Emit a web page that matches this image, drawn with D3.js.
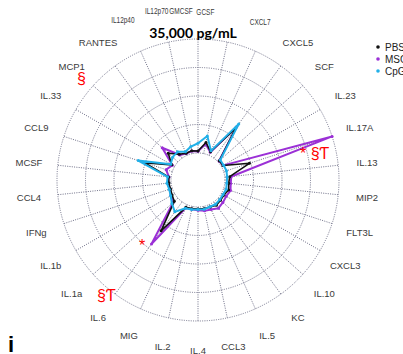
<!DOCTYPE html>
<html>
<head>
<meta charset="utf-8">
<script src="https://cdn.jsdelivr.net/npm/d3@7/dist/d3.min.js"></script>
<style>
  html, body { margin: 0; padding: 0; background: #fff; }
  svg { display: block; }
</style>
</head>
<body>
<script>
// Cytokine panel, clockwise from the top spoke
const cytokines = ["GMCSF", "GCSF", "CXCL7", "CXCL5", "SCF", "IL.23", "IL.17A", "IL.13", "MIP2", "FLT3L",
  "CXCL3", "IL.10", "KC", "IL.5", "CCL3", "IL.4", "IL.2", "MIG", "IL.6", "IL.1a",
  "IL.1b", "IFNg", "CCL4", "MCSF", "CCL9", "IL.33", "MCP1", "RANTES", "IL12p40", "IL12p70"];

// Concentrations (pg/mL)
const pbs = [600, 3500, 1200, 11500, 500, 600, 8300, 1500, 1200, 1600,
  900, 1000, 1300, 800, 700, 600, 700, 900, 11000, 1500,
  900, 600, 700, 800, 9000, 1000, 4000, 1500, 700, 900];
const msc = [500, 3000, 1000, 12000, 400, 700, 35000, 2000, 1800, 2200,
  1700, 2000, 2400, 1600, 1400, 1000, 900, 1100, 16000, 2000,
  1300, 800, 900, 700, 2000, 800, 6500, 1200, 600, 800];
const cpg = [3000, 5500, 1500, 13000, 900, 800, 900, 700, 600, 800,
  600, 700, 900, 700, 900, 800, 1000, 1200, 3800, 2500,
  1400, 1000, 1300, 1100, 11000, 1400, 2200, 2400, 1200, 2200];

const seriesNames = ["PBS", "MSC", "CpG"];
const seriesColors = ["#111111", "#9b30d6", "#22b0e8"];
const axisMax = 35000;
const gridLevels = [0, 8750, 17500, 26250, 35000];

// Significance marks placed beside the affected cytokines
const marks = [
  { text: "* §Ƭ", x: 300, y: 159 },
  { text: "§", x: 77, y: 84 },
  { text: "*", x: 139, y: 251 },
  { text: "§Ƭ", x: 97, y: 301 }
];

const W = 403, H = 354;
const cx = 198, cy = 180, r0 = 27, R = 141, labelR = 170;

const svg = d3.select("body").append("svg").attr("width", W).attr("height", H);

const r = d3.scaleLinear().domain([0, axisMax]).range([r0, R]);
const angle = d3.scalePoint().domain(cytokines).range([0, 2 * Math.PI * (cytokines.length - 1) / cytokines.length]);

const g = svg.append("g").attr("transform", `translate(${cx},${cy})`);

// Grid: rings and spokes
const gridStyle = sel => sel.attr("fill", "none").attr("stroke", "#6f7088")
  .attr("stroke-width", 1).attr("stroke-dasharray", "1,1.3");

g.selectAll("circle.ring").data(gridLevels).join("circle")
  .attr("class", "ring").attr("r", d => r(d)).call(gridStyle);

g.selectAll("line.spoke").data(cytokines).join("line")
  .attr("class", "spoke")
  .attr("x1", d => r(0) * Math.sin(angle(d)))
  .attr("y1", d => -r(0) * Math.cos(angle(d)))
  .attr("x2", d => R * Math.sin(angle(d)))
  .attr("y2", d => -R * Math.cos(angle(d)))
  .call(gridStyle);

// Axis labels; the crowded ones under the title are condensed and pulled in
const squeeze = {
  "IL12p40": [-6, -5], "IL12p70": [-6, -3], "GMCSF": [-17, 1],
  "GCSF": [-28, -2], "CXCL7": [-7, -3]
};
g.selectAll("text.lab").data(cytokines).join("text")
  .attr("class", "lab")
  .attr("transform", d => {
    const s = squeeze[d];
    const x = labelR * Math.sin(angle(d)) + (s ? s[0] : 0);
    const y = -labelR * Math.cos(angle(d)) + (s ? s[1] : 0);
    return `translate(${x},${y})` + (s ? " scale(0.72,1)" : "");
  })
  .attr("text-anchor", "middle").attr("dominant-baseline", "central")
  .attr("font-family", "'Liberation Sans', Arial, sans-serif")
  .attr("font-size", d => squeeze[d] ? 9 : 9.5)
  .attr("fill", "#3a3a3a")
  .text(d => d);

// Series polygons
const radar = d3.lineRadial().curve(d3.curveLinearClosed)
  .angle((d, i) => angle(cytokines[i]))
  .radius(d => r(d));

const seriesData = [pbs, msc, cpg];
const drawOrder = [1, 0, 2];
drawOrder.forEach(k => {
  const sg = g.append("g");
  sg.append("path").datum(seriesData[k]).attr("d", radar)
    .attr("fill", "none").attr("stroke", seriesColors[k])
    .attr("stroke-width", k === 0 ? 1.6 : 2).attr("stroke-linejoin", "round");
  sg.selectAll("circle").data(seriesData[k]).join("circle")
    .attr("cx", (d, i) => r(d) * Math.sin(angle(cytokines[i])))
    .attr("cy", (d, i) => -r(d) * Math.cos(angle(cytokines[i])))
    .attr("r", 1.5).attr("fill", seriesColors[k]);
});

// Title
svg.append("text").attr("x", 193).attr("y", 38).attr("text-anchor", "middle")
  .attr("font-family", "Lato, 'Open Sans', sans-serif").attr("font-weight", "bold")
  .attr("font-size", 14).attr("fill", "#000").text("35,000 pg/mL");

// Legend (runs off the right edge of the panel)
const leg = svg.append("g");
seriesNames.forEach((name, i) => {
  leg.append("circle").attr("cx", 378).attr("cy", 47 + i * 12).attr("r", 1.8).attr("fill", seriesColors[i]);
  leg.append("text").attr("x", 385).attr("y", 47 + i * 12).attr("dominant-baseline", "central")
    .attr("font-family", "'Liberation Sans', Arial, sans-serif").attr("font-size", 10)
    .attr("fill", "#222").text(name);
});

// Significance marks
svg.selectAll("text.mark").data(marks).join("text")
  .attr("class", "mark").attr("x", d => d.x).attr("y", d => d.y)
  .attr("font-family", "'Liberation Sans', Arial, sans-serif").attr("font-size", 16)
  .attr("fill", "#ff0000").text(d => d.text);

// Panel letter
svg.append("text").attr("x", 8).attr("y", 352)
  .attr("font-family", "'Liberation Sans', Arial, sans-serif").attr("font-weight", "bold")
  .attr("font-size", 22).attr("fill", "#000").text("i");
</script>
</body>
</html>
